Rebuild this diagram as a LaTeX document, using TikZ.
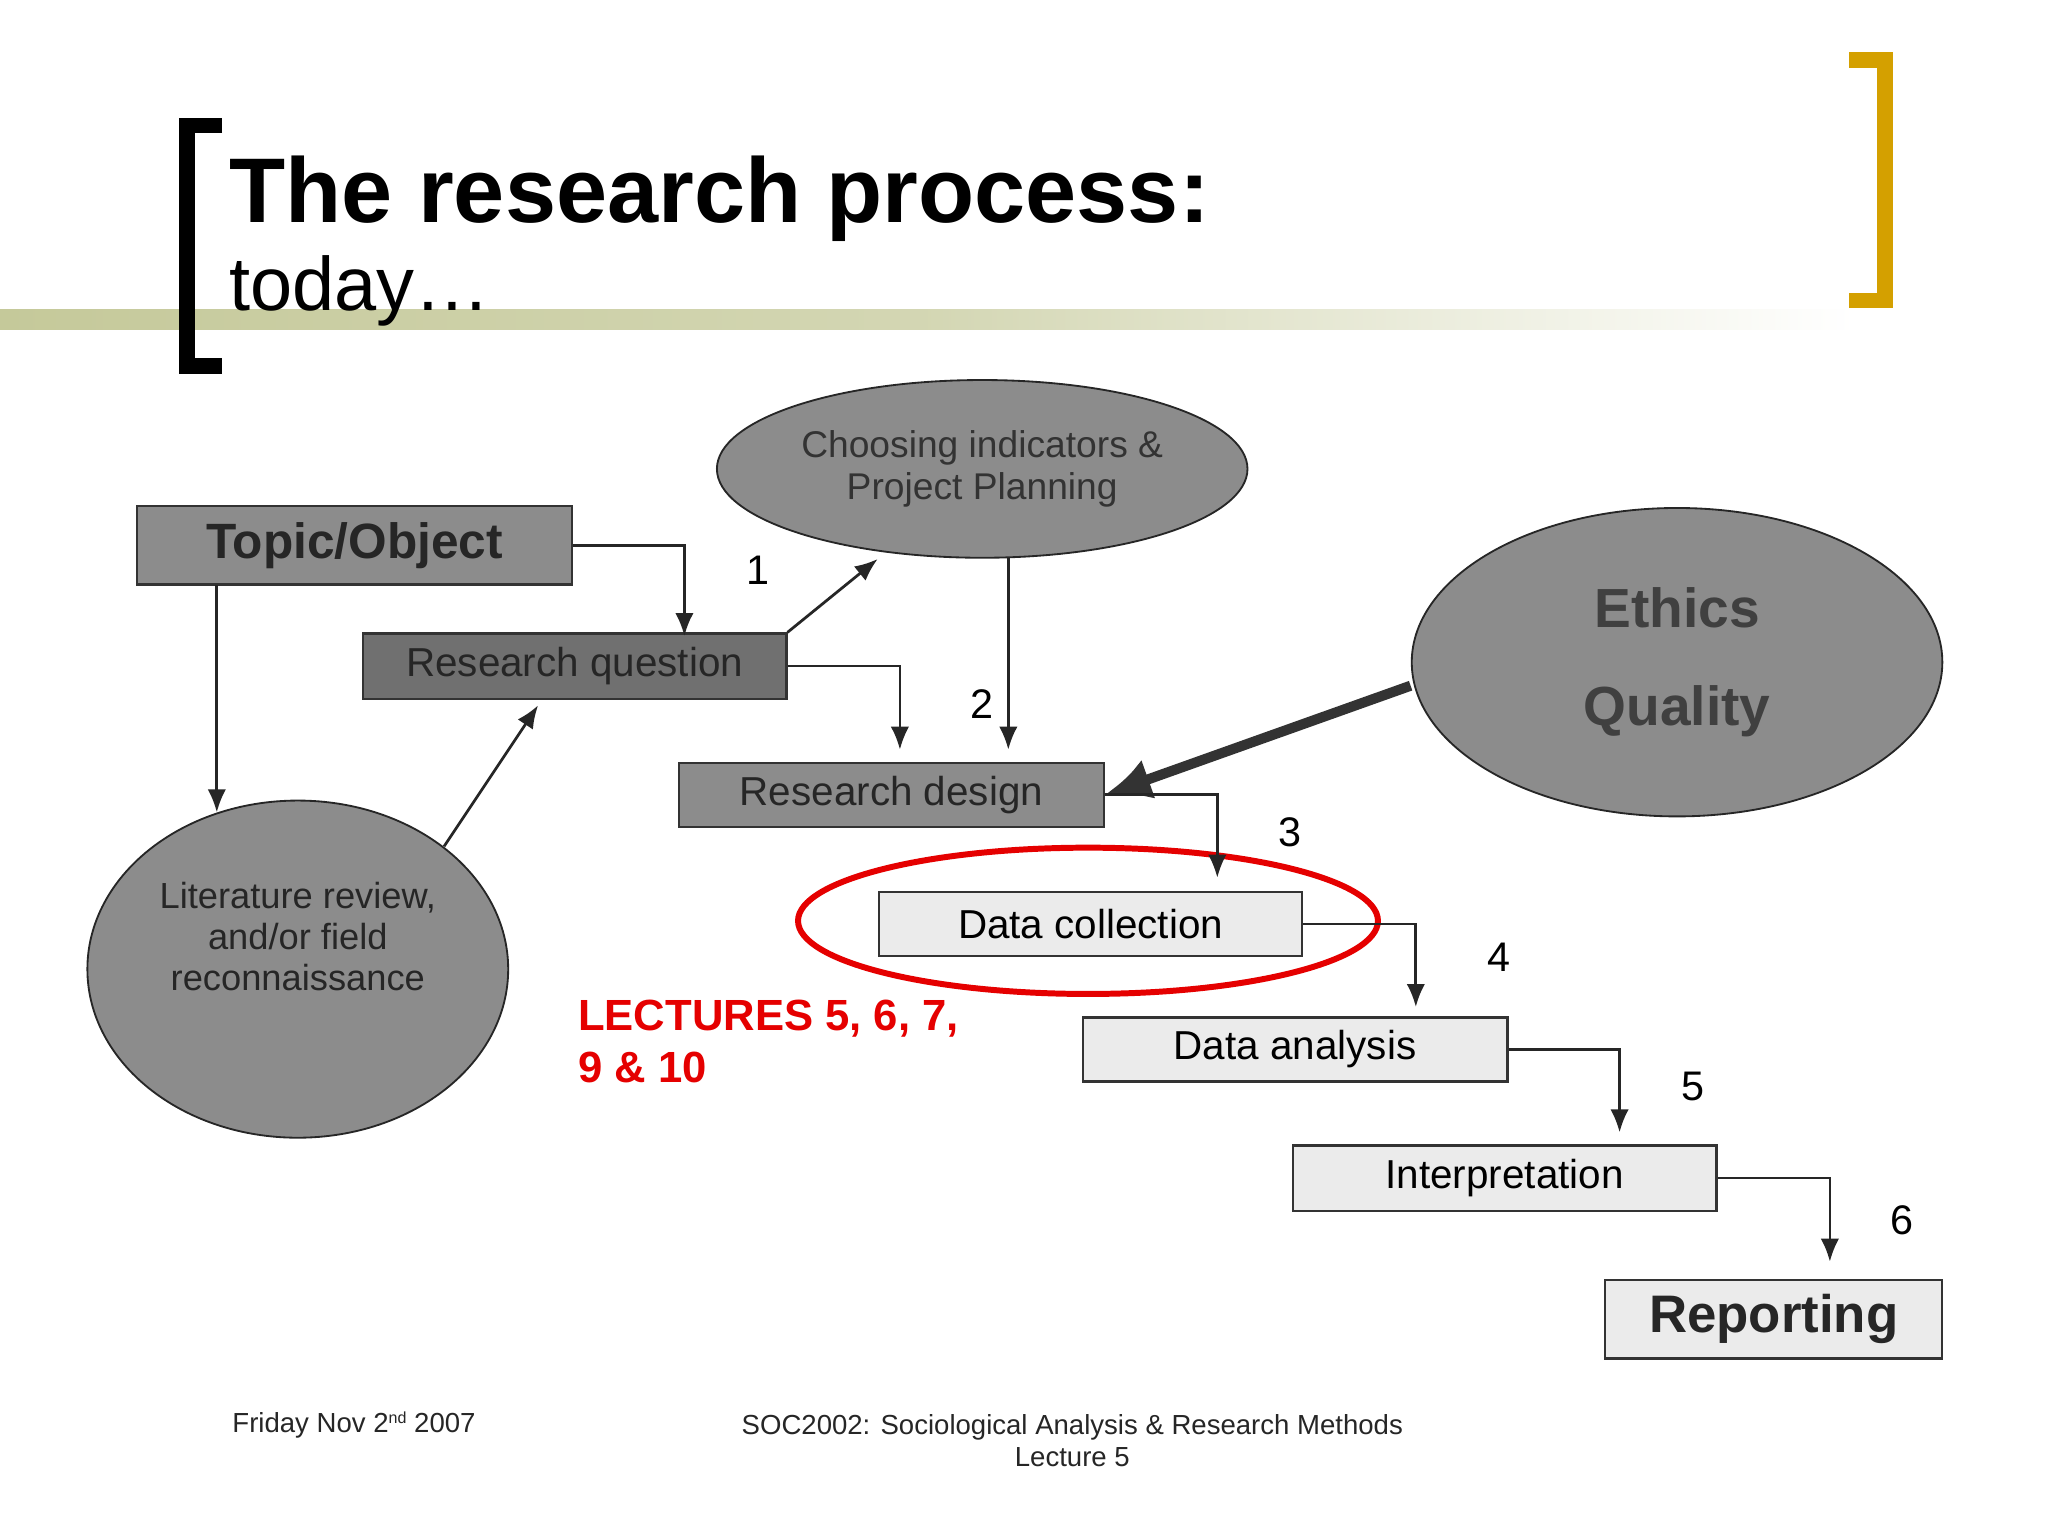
\documentclass[tikz,border=0pt]{standalone}
\usepackage{fontspec}
\setmainfont{Liberation Sans}
\usetikzlibrary{arrows.meta,shapes.geometric}
\definecolor{olive}{RGB}{197,201,154}
\definecolor{gold}{RGB}{212,160,0}
\begin{document}
\begin{tikzpicture}[x=0.01cm,y=-0.01cm,
  box/.style={draw=black!80,line width=0.5pt,inner sep=0pt},
  arr/.style={-{Latex[length=5pt,width=4pt]},line width=0.6pt,black!85},
  num/.style={font=\fontsize{9}{10}\selectfont}]
\useasboundingbox (0,0) rectangle (1568,1176);
\fill[white] (0,0) rectangle (1568,1176);
% band
\shade[left color=olive,right color=white,middle color=olive!75] (0,237) rectangle (1420,252);
% brackets
\draw[line width=1.2mm,black] (170,96) -- (143,96) -- (143,280) -- (170,280);
\draw[line width=1.2mm,gold] (1416,46) -- (1443,46) -- (1443,230) -- (1416,230);
\node[anchor=base west,inner sep=0,font=\fontsize{20}{24}\selectfont\bfseries] (title) at (175,170) {The research process:};
\node[anchor=base west,inner sep=0,font=\fontsize{16.5}{20}\selectfont] (today) at (175,238) {today…};
% ellipses
\node[ellipse,draw=black!85,fill=black!45,inner sep=0,minimum width=4.06cm,minimum height=1.36cm,align=center,font=\fontsize{8.1}{9.2}\selectfont,text=black!80] (choose) at (752,359) {Choosing indicators \&\\Project Planning};
\node[ellipse,draw=black!85,fill=black!45,inner sep=0,minimum width=4.06cm,minimum height=2.36cm,align=center,font=\fontsize{12}{15.5}\selectfont\bfseries,text=black!75] (eth) at (1284,507) {Ethics\\[6pt]Quality};
\node[ellipse,draw=black!85,fill=black!45,minimum width=3.22cm,minimum height=2.58cm,inner sep=0] (lit) at (228,742) {};
\node[align=center,font=\fontsize{7.9}{9}\selectfont,text=black!85] (littext) at (228,717) {Literature review,\\and/or field\\reconnaissance};
% boxes
\node[box,fill=black!45,minimum width=3.33cm,minimum height=0.6cm,font=\fontsize{10.8}{12}\selectfont\bfseries,text=black!85] (topic) at (271.5,417.5) {Topic/Object};
\node[box,fill=black!56,minimum width=3.24cm,minimum height=0.5cm,font=\fontsize{8.8}{10}\selectfont,text=black!85] (rq) at (440,510) {Research question};
\node[box,fill=black!45,minimum width=3.25cm,minimum height=0.49cm,font=\fontsize{8.8}{10}\selectfont,text=black!85] (rd) at (682.5,608.5) {Research design};
\node[box,fill=black!8,minimum width=3.24cm,minimum height=0.49cm,font=\fontsize{8.8}{10}\selectfont] (dc) at (835,707.5) {Data collection};
\node[box,fill=black!8,minimum width=3.25cm,minimum height=0.49cm,font=\fontsize{8.8}{10}\selectfont] (da) at (991.5,803.5) {Data analysis};
\node[box,fill=black!8,minimum width=3.24cm,minimum height=0.5cm,font=\fontsize{8.8}{10}\selectfont] (ip) at (1152,902) {Interpretation};
\node[box,fill=black!8,minimum width=2.58cm,minimum height=0.6cm,font=\fontsize{11.5}{13}\selectfont\bfseries,text=black!85] (rep) at (1358,1010) {Reporting};
% red ellipse
\draw[red!90!black,line width=1.3pt] (833,705) ellipse [x radius=222,y radius=56];
\node[anchor=north west,align=left,inner sep=0,text=red!90!black,font=\fontsize{9.5}{11.3}\selectfont\bfseries] (lec) at (442,765) {LECTURES 5, 6, 7,\\9 \& 10};
% connectors
\draw[arr] (topic.east) -| (524,487);
\draw[arr] (166,448) -- (166,622);
\draw[arr] (340,648) -- (412,540);
\draw[arr] (rq.north east) -- (672,428);
\draw[arr] (rq.east) -| (689,574);
\draw[arr] (772,427) -- (772,574);
\draw[-{Latex[length=10pt,width=9pt]},line width=2.2pt,black!80] (1080,525) -- (rd.east);
\draw[arr] (rd.east) -| (932,672);
\draw[arr] (dc.east) -| (1084,771);
\draw[arr] (da.east) -| (1240,867);
\draw[arr] (ip.east) -| (1401,966);
% numbers
\node[num] (n1) at (580,437) {1};
\node[num] (n2) at (752,539) {2};
\node[num] (n3) at (988,637) {3};
\node[num] (n4) at (1148,733) {4};
\node[num] (n5) at (1296,832) {5};
\node[num] (n6) at (1456,934) {6};
% footer
\node[font=\fontsize{6}{7}\selectfont,text=black!85] (f1) at (271,1091) {Friday Nov 2\raisebox{0.6ex}{\fontsize{3.5}{4}\selectfont nd} 2007};
\node[align=center,font=\fontsize{6}{7}\selectfont,text=black!85] (f2) at (821,1103) {SOC2002: Sociological Analysis \& Research Methods\\Lecture 5};
\end{tikzpicture}
\end{document}
